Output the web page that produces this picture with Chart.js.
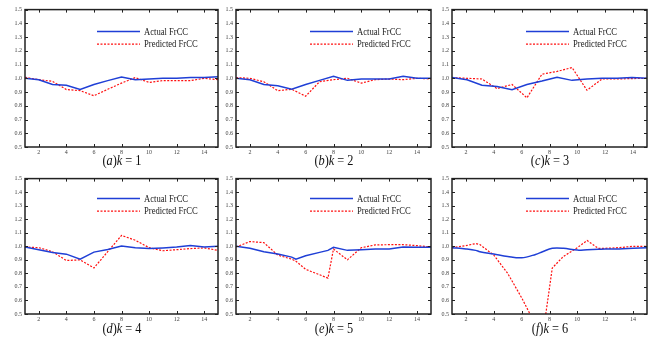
<!DOCTYPE html>
<html>
<head>
<meta charset="utf-8">
<script src="https://cdn.jsdelivr.net/npm/chart.js@4"></script>
<style>
  body { margin: 0; background: #fff; }
  .wrap { position: absolute; }
  .cap { position: absolute; width: 120px; text-align: center; font: 15px "Liberation Serif", serif; color: #111; line-height: 16px; transform: scaleX(0.82); }
</style>
</head>
<body>
<script>
// tick values
const xTicks = [2, 4, 6, 8, 10, 12, 14];
const yTicks = [0.5, 0.6, 0.7, 0.8, 0.9, 1, 1.1, 1.2, 1.3, 1.4, 1.5];
const legendLabels = ['Actual FrCC', 'Predicted FrCC'];

// x positions of samples
const xInt = [1, 2, 3, 4, 5, 6, 7, 8, 9, 10, 11, 12, 13, 14, 15];
const xC = [1, 2.08, 3.15, 4.23, 5.31, 6.38, 7.46, 8.54, 9.62, 10.69, 11.77, 12.85, 13.92, 15];
const xE = [1, 2, 3, 4, 5, 5.3, 6, 7, 7.6, 8, 9, 10, 11, 12, 13, 14, 15];
const xF = [1, 2, 2.7, 3, 4, 5, 6, 7, 7.5, 8.2, 9, 10, 10.7, 11.5, 12, 13, 14, 15];

// k = 1
const actualA = [1.0, 0.99, 0.955, 0.95, 0.918, 0.955, 0.983, 1.01, 0.99, 0.995, 1.0, 1.0, 1.005, 1.005, 1.012];
const predA = [1.007, 0.99, 0.978, 0.918, 0.91, 0.873, 0.92, 0.965, 1.005, 0.97, 0.983, 0.983, 0.983, 1.0, 0.99];
// k = 2
const actualB = [1.0, 0.99, 0.955, 0.945, 0.92, 0.955, 0.985, 1.015, 0.985, 0.995, 0.995, 0.995, 1.015, 1.0, 1.0];
const predB = [1.005, 1.0, 0.975, 0.91, 0.92, 0.87, 0.975, 0.99, 1.0, 0.965, 0.99, 0.995, 0.99, 1.0, 0.995];
// k = 3
const actualC = [1.005, 0.99, 0.95, 0.94, 0.917, 0.955, 0.98, 1.008, 0.985, 0.995, 1.0, 1.0, 1.005, 1.0];
const predC = [1.005, 1.0, 0.995, 0.925, 0.955, 0.858, 1.03, 1.05, 1.078, 0.913, 0.995, 0.995, 0.998, 1.0];
// k = 4
const actualD = [0.995, 0.975, 0.955, 0.942, 0.905, 0.957, 0.976, 1.002, 0.99, 0.983, 0.988, 0.995, 1.005, 0.995, 1.0];
const predD = [0.995, 0.99, 0.96, 0.895, 0.9, 0.84, 0.96, 1.08, 1.045, 0.99, 0.967, 0.975, 0.983, 0.988, 0.97];
// k = 5
const actualE = [1.0, 0.985, 0.96, 0.943, 0.92, 0.905, 0.93, 0.955, 0.97, 0.993, 0.97, 0.975, 0.98, 0.98, 0.995, 0.993, 0.993];
const predE = [0.995, 1.035, 1.027, 0.935, 0.905, 0.89, 0.83, 0.79, 0.765, 0.98, 0.9, 0.99, 1.01, 1.012, 1.012, 1.005, 0.995];
// k = 6
const actualF = [0.99, 0.98, 0.97, 0.96, 0.943, 0.925, 0.915, 0.94, 0.96, 0.985, 0.985, 0.972, 0.975, 0.978, 0.98, 0.98, 0.985, 0.99];
const predF = [0.99, 1.005, 1.02, 1.013, 0.935, 0.8, 0.62, 0.42, 0.33, 0.84, 0.925, 0.99, 1.043, 0.985, 0.985, 0.99, 1.0, 1.0];

const panels = [
  { tag: 'a', k: 1, xs: xInt, act: actualA, pred: predA, L: 25, T: 7, W: 193, H: 140, legY: 22, capY: 152 },
  { tag: 'b', k: 2, xs: xInt, act: actualB, pred: predB, L: 236, T: 7, W: 195, H: 140, legY: 22, capY: 152 },
  { tag: 'c', k: 3, xs: xC, act: actualC, pred: predC, L: 452, T: 7, W: 195, H: 140, legY: 22, capY: 152 },
  { tag: 'd', k: 4, xs: xInt, act: actualD, pred: predD, L: 25, T: 176, W: 193, H: 138, legY: 20, capY: 320 },
  { tag: 'e', k: 5, xs: xE, act: actualE, pred: predE, L: 236, T: 176, W: 195, H: 138, legY: 20, capY: 320 },
  { tag: 'f', k: 6, xs: xF, act: actualF, pred: predF, L: 452, T: 176, W: 195, H: 138, legY: 20, capY: 320, smooth: true }
];

const YAXIS_W = 24, XAXIS_H = 12, PAD_T = 4, PAD_R = 4;

// box with inward ticks + legend inside the plot, matlab style
const boxPlugin = {
  id: 'box',
  afterDraw(chart, args, opts) {
    const ctx = chart.ctx;
    const a = chart.chartArea;
    const xs = chart.scales.x, ys = chart.scales.y;
    ctx.save();
    ctx.strokeStyle = '#222';
    ctx.lineWidth = 1;
    ctx.beginPath();
    xTicks.forEach(v => {
      const px = Math.round(xs.getPixelForValue(v)) + 0.5;
      ctx.moveTo(px, a.bottom); ctx.lineTo(px, a.bottom - 3);
      ctx.moveTo(px, a.top); ctx.lineTo(px, a.top + 3);
    });
    yTicks.forEach(v => {
      const py = Math.round(ys.getPixelForValue(v)) + 0.5;
      ctx.moveTo(a.left, py); ctx.lineTo(a.left + 3, py);
      ctx.moveTo(a.right, py); ctx.lineTo(a.right - 3, py);
    });
    ctx.stroke();
    ctx.lineWidth = 1.5;
    ctx.strokeRect(a.left, a.top, a.right - a.left, a.bottom - a.top);

    // legend
    chart.data.datasets.forEach((ds, i) => {
      const y = a.top + opts.legY + i * 12.5;
      ctx.beginPath();
      ctx.strokeStyle = ds.borderColor;
      ctx.lineWidth = ds.borderWidth;
      ctx.setLineDash(ds.borderDash || []);
      ctx.moveTo(a.right - 121, y);
      ctx.lineTo(a.right - 78, y);
      ctx.stroke();
      ctx.setLineDash([]);
      ctx.save();
      ctx.translate(a.right - 74, y);
      ctx.scale(0.78, 1);
      ctx.fillStyle = '#222';
      ctx.font = '11px "Liberation Serif"';
      ctx.textBaseline = 'middle';
      ctx.fillText(ds.label, 0, 0.5);
      ctx.restore();
    });
    ctx.restore();
  }
};

panels.forEach(p => {
  const wrap = document.createElement('div');
  wrap.className = 'wrap';
  wrap.style.left = (p.L - YAXIS_W) + 'px';
  wrap.style.top = (p.T - PAD_T) + 'px';
  wrap.style.width = (p.W + YAXIS_W + PAD_R) + 'px';
  wrap.style.height = (p.H + PAD_T + XAXIS_H) + 'px';
  const canvas = document.createElement('canvas');
  wrap.appendChild(canvas);
  document.body.appendChild(wrap);

  const cap = document.createElement('div');
  cap.className = 'cap';
  cap.style.left = (p.L + p.W / 2 - 60) + 'px';
  cap.style.top = p.capY + 'px';
  cap.innerHTML = '(<i>' + p.tag + '</i>)<i>k</i> = ' + p.k;
  document.body.appendChild(cap);

  new Chart(canvas, {
    type: 'line',
    data: {
      datasets: [
        {
          label: legendLabels[0],
          data: p.xs.map((x, i) => ({ x: x, y: p.act[i] })),
          borderColor: '#1f3fd6',
          borderWidth: 1.5,
          pointRadius: 0,
          tension: p.smooth ? 0.35 : 0,
          clip: 0
        },
        {
          label: legendLabels[1],
          data: p.xs.map((x, i) => ({ x: x, y: p.pred[i] })),
          borderColor: '#ff1010',
          borderWidth: 1.2,
          borderDash: [2, 1.5],
          pointRadius: 0,
          tension: 0,
          clip: 0
        }
      ]
    },
    options: {
      responsive: true,
      maintainAspectRatio: false,
      animation: false,
      events: [],
      layout: { padding: { top: PAD_T, right: PAD_R, left: 0, bottom: 0 } },
      scales: {
        x: {
          type: 'linear',
          min: 1,
          max: 15,
          afterBuildTicks: s => { s.ticks = xTicks.map(v => ({ value: v })); },
          afterFit: s => { s.height = XAXIS_H; },
          grid: { display: false, drawTicks: false },
          border: { display: false },
          ticks: { padding: 2, maxRotation: 0, color: '#444', font: { family: 'Liberation Serif', size: 6 } }
        },
        y: {
          min: 0.5,
          max: 1.5,
          afterBuildTicks: s => { s.ticks = yTicks.map(v => ({ value: v })); },
          afterFit: s => { s.width = YAXIS_W; },
          grid: { display: false, drawTicks: false },
          border: { display: false },
          ticks: { padding: 3, color: '#444', font: { family: 'Liberation Serif', size: 6 } }
        }
      },
      plugins: {
        legend: { display: false },
        tooltip: { enabled: false },
        box: { legY: p.legY }
      }
    },
    plugins: [boxPlugin]
  });
});
</script>
</body>
</html>
